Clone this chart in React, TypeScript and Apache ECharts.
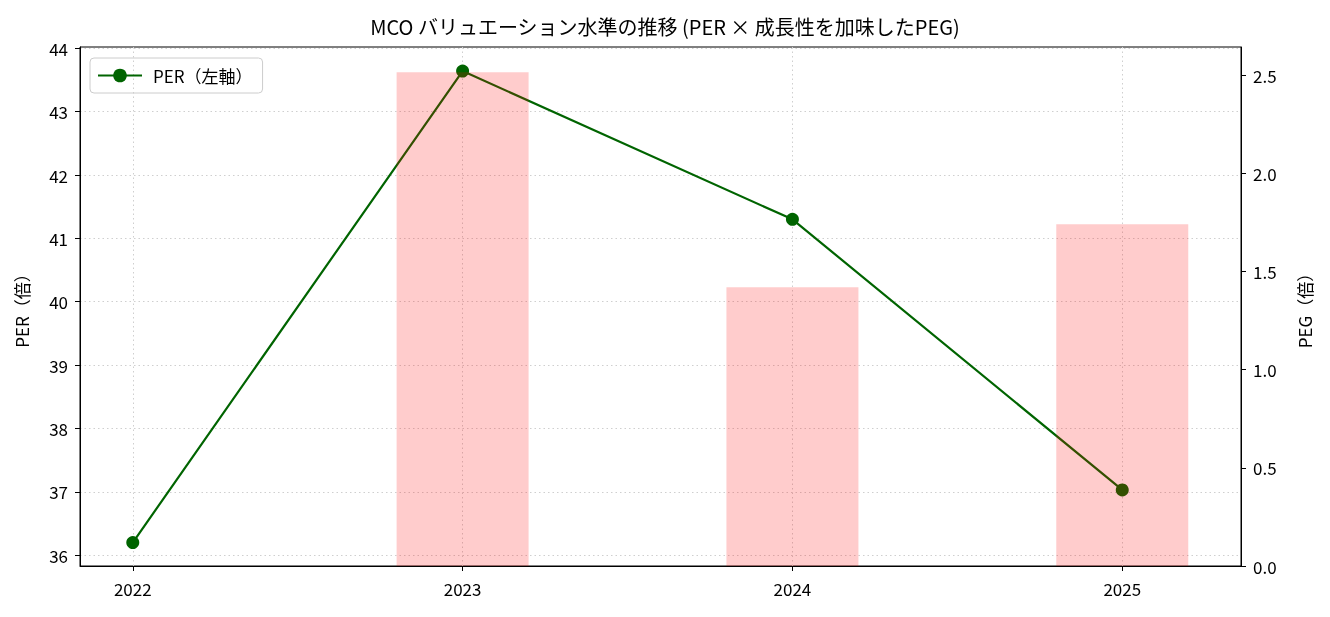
import React, { useEffect, useRef } from "react";
import * as echarts from "echarts";

const years = ["2022", "2023", "2024", "2025"];
const perValues = [36.2, 43.64, 41.3, 37.03];
const pegYears = [1, 2, 3];
const pegValues = [2.515, 1.42, 1.74];
const perTicks = [36, 37, 38, 39, 40, 41, 42, 43, 44];
const pegTicks = [0, 0.5, 1.0, 1.5, 2.0, 2.5];
const xTicks = [0, 1, 2, 3];

const FONT = "'Noto Sans CJK JP', 'Noto Sans', sans-serif";

export default function App() {
  const ref = useRef<HTMLDivElement>(null);
  useEffect(() => {
    if (!ref.current) return;
    const chart = echarts.init(ref.current, undefined, { renderer: "svg" });
    const gridLine = { show: true, lineStyle: { color: "#cfcfcf", type: [1.5, 3], width: 1 } };
    chart.setOption({
      animation: false,
      textStyle: { fontFamily: FONT },
      title: {
        text: "MCO バリュエーション水準の推移 (PER × 成長性を加味したPEG)",
        left: "center",
        top: 11,
        textStyle: { fontFamily: FONT, fontSize: 20, fontWeight: "normal", color: "#000" },
      },
      legend: {
        left: 90,
        top: 58,
        data: ["PER（左軸）"],
        itemWidth: 44,
        itemHeight: 17,
        padding: [9, 10, 9, 7],
        borderColor: "#cccccc",
        borderWidth: 1,
        borderRadius: 4,
        textStyle: { fontFamily: FONT, fontSize: 17, color: "#000", padding: [0, 0, 0, 6] },
      },
      grid: {
        left: 80,
        right: 89,
        top: 47,
        bottom: 51,
        show: true,
        borderColor: "#000",
        borderWidth: 1,
        backgroundColor: "transparent",
      },
      xAxis: {
        type: "value",
        min: -0.16,
        max: 3.36,
        axisLine: { show: true, onZero: false, lineStyle: { color: "#000" } },
        axisTick: { show: true, customValues: xTicks, length: 5, lineStyle: { color: "#000" } },
        axisLabel: {
          customValues: xTicks,
          formatter: (v: number) => years[Math.round(v)] ?? "",
          color: "#000",
          fontSize: 17,
          margin: 14,
          fontFamily: FONT,
        },
        splitLine: { ...gridLine, customValues: xTicks },
      },
      yAxis: [
        {
          type: "value",
          min: 35.83,
          max: 44.02,
          name: "PER（倍）",
          nameLocation: "middle",
          nameGap: 50,
          nameRotate: 90,
          nameTextStyle: { fontFamily: FONT, fontSize: 17, color: "#000" },
          axisLine: { show: true, onZero: false, lineStyle: { color: "#000" } },
          axisTick: { show: true, customValues: perTicks, length: 5, lineStyle: { color: "#000" } },
          axisLabel: { customValues: perTicks, color: "#000", fontSize: 17, margin: 12, fontFamily: FONT },
          splitLine: { ...gridLine, customValues: perTicks },
        },
        {
          type: "value",
          min: 0,
          max: 2.643,
          position: "right",
          name: "PEG（倍）",
          nameLocation: "middle",
          nameGap: 55,
          nameRotate: 90,
          nameTextStyle: { fontFamily: FONT, fontSize: 17, color: "#000" },
          axisLine: { show: true, onZero: false, lineStyle: { color: "#000" } },
          axisTick: { show: true, customValues: pegTicks, length: 5, lineStyle: { color: "#000" } },
          axisLabel: {
            customValues: pegTicks,
            formatter: (v: number) => v.toFixed(1),
            color: "#000",
            fontSize: 17,
            margin: 12,
            fontFamily: FONT,
          },
          splitLine: { show: false },
        },
      ],
      series: [
        {
          name: "PER（左軸）",
          type: "line",
          yAxisIndex: 0,
          data: perValues.map((v, i) => [xTicks[i], v]),
          symbol: "circle",
          symbolSize: 13,
          lineStyle: { color: "#006400", width: 2.2 },
          itemStyle: { color: "#006400" },
          z: 2,
        },
        {
          name: "PEG",
          type: "bar",
          yAxisIndex: 1,
          data: pegValues.map((v, i) => [pegYears[i], v]),
          barWidth: 132,
          itemStyle: { color: "rgba(255,0,0,0.2)" },
          z: 3,
        },
      ],
    });
    return () => chart.dispose();
  }, []);
  return (
    <div
      ref={ref}
      style={{ position: "fixed", left: 0, top: 0, width: 1330, height: 617 }}
    />
  );
}
